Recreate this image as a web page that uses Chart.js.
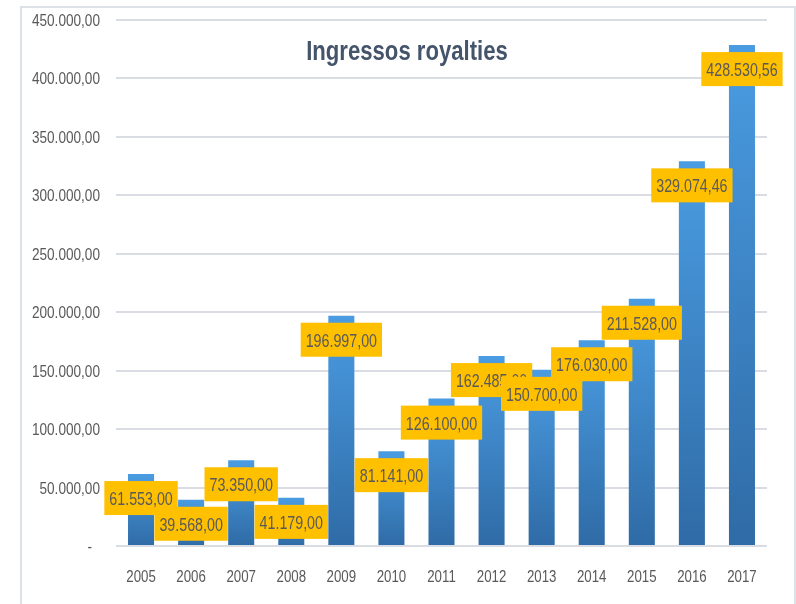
<!DOCTYPE html>
<html>
<head>
<meta charset="utf-8">
<script src="https://cdn.jsdelivr.net/npm/chart.js@4/dist/chart.umd.min.js"></script>
<style>
html,body{margin:0;padding:0;background:#fff;}
#wrap{width:796px;height:604px;position:relative;}
</style>
</head>
<body>
<div id="wrap"><canvas id="c" width="796" height="604"></canvas></div>
<script>
const categories = ['2005','2006','2007','2008','2009','2010','2011','2012','2013','2014','2015','2016','2017'];
const royalties = [61553.00, 39568.00, 73350.00, 41179.00, 196997.00, 81141.00, 126100.00, 162485.00, 150700.00, 176030.00, 211528.00, 329074.46, 428530.56];
const chartTitle = 'Ingressos royalties';
const yMax = 450000;
const yStep = 50000;

function fmtBR(v){
  const fixed = Math.abs(v).toFixed(2);
  let [intPart, dec] = fixed.split('.');
  intPart = intPart.replace(/\B(?=(\d{3})+(?!\d))/g, '.');
  return (v < 0 ? '-' : '') + intPart + ',' + dec;
}

const FONT = "'Liberation Sans', Arial, sans-serif";

// draw text condensed horizontally (Calibri-like look)
function narrowText(c, txt, x, y, align, sx){
  c.save();
  c.translate(x, y);
  c.scale(sx, 1);
  c.textAlign = align;
  c.fillText(txt, 0, 0);
  c.restore();
}

const frame = {
  id: 'frame',
  beforeDraw(chart){
    const c = chart.ctx;
    c.save();
    c.fillStyle = '#fff';
    c.fillRect(0,0,chart.width,chart.height);
    c.strokeStyle = '#DDE2E9';
    c.lineWidth = 2;
    c.strokeRect(21, 7, 774, 640);
    c.restore();
  }
};

const axisText = {
  id: 'axisText',
  afterDraw(chart){
    const c = chart.ctx;
    const ys = chart.scales.y, xs = chart.scales.x;
    c.save();
    c.fillStyle = '#595959';
    c.textBaseline = 'alphabetic';
    c.font = '17px ' + FONT;
    ys.ticks.forEach((t, i) => {
      const py = ys.getPixelForTick(i);
      const txt = t.value === 0 ? '-' : fmtBR(t.value);
      const rx = t.value === 0 ? 92 : 100;
      narrowText(c, txt, rx, py + 6, 'right', 0.8);
    });
    xs.ticks.forEach((t, i) => {
      const px = xs.getPixelForTick(i);
      narrowText(c, categories[i], px, 582, 'center', 0.78);
    });
    c.restore();
  }
};

const labelsPlugin = {
  id: 'boxLabels',
  afterDatasetsDraw(chart){
    const c = chart.ctx;
    const meta = chart.getDatasetMeta(0);
    const sx = 0.75;
    c.save();
    c.font = '19px ' + FONT;
    c.textBaseline = 'alphabetic';
    meta.data.forEach((bar, i) => {
      const txt = fmtBR(royalties[i]);
      const tw = c.measureText(txt).width * sx;
      const w = tw + 10;
      const h = 34;
      const cx = bar.x, cy = bar.y + 24;
      c.fillStyle = '#FFC000';
      c.fillRect(cx - w/2, cy - h/2, w, h);
      c.fillStyle = '#595959';
      narrowText(c, txt, cx, cy + 7, 'center', sx);
    });
    // title
    c.font = 'bold 28px ' + FONT;
    c.fillStyle = '#44546A';
    narrowText(c, chartTitle, 407, 60, 'center', 0.79);
    c.restore();
  }
};

new Chart(document.getElementById('c'), {
  type: 'bar',
  data: {
    labels: categories,
    datasets: [{
      data: royalties,
      barPercentage: 0.52,
      categoryPercentage: 1.0,
      backgroundColor(ctx){
        const chart = ctx.chart;
        const ca = chart.chartArea;
        if (!ca || ctx.raw === undefined) return '#3E86CC';
        const yTop = chart.scales.y.getPixelForValue(ctx.raw);
        const yB = chart.scales.y.getPixelForValue(0);
        const g = chart.ctx.createLinearGradient(0, yTop, 0, yB);
        g.addColorStop(0, '#4A9CE2');
        g.addColorStop(1, '#2F6BA6');
        return g;
      },
      borderWidth: 0
    }]
  },
  options: {
    responsive: false,
    animation: false,
    devicePixelRatio: 1,
    layout: { padding: { left: 20, right: 29, top: 20, bottom: 0 } },
    plugins: { legend: { display: false }, title: { display: false }, tooltip: { enabled: false } },
    scales: {
      x: {
        grid: { display: false, drawTicks: false },
        border: { display: false },
        ticks: { display: false },
        afterFit(s){ s.height = 58; }
      },
      y: {
        min: 0, max: yMax,
        grid: { color: '#D9DDE3', lineWidth: 2, drawTicks: false },
        border: { display: false },
        ticks: { stepSize: yStep, display: false },
        afterFit(s){ s.width = 96; }
      }
    }
  },
  plugins: [frame, labelsPlugin, axisText]
});
</script>
</body>
</html>
